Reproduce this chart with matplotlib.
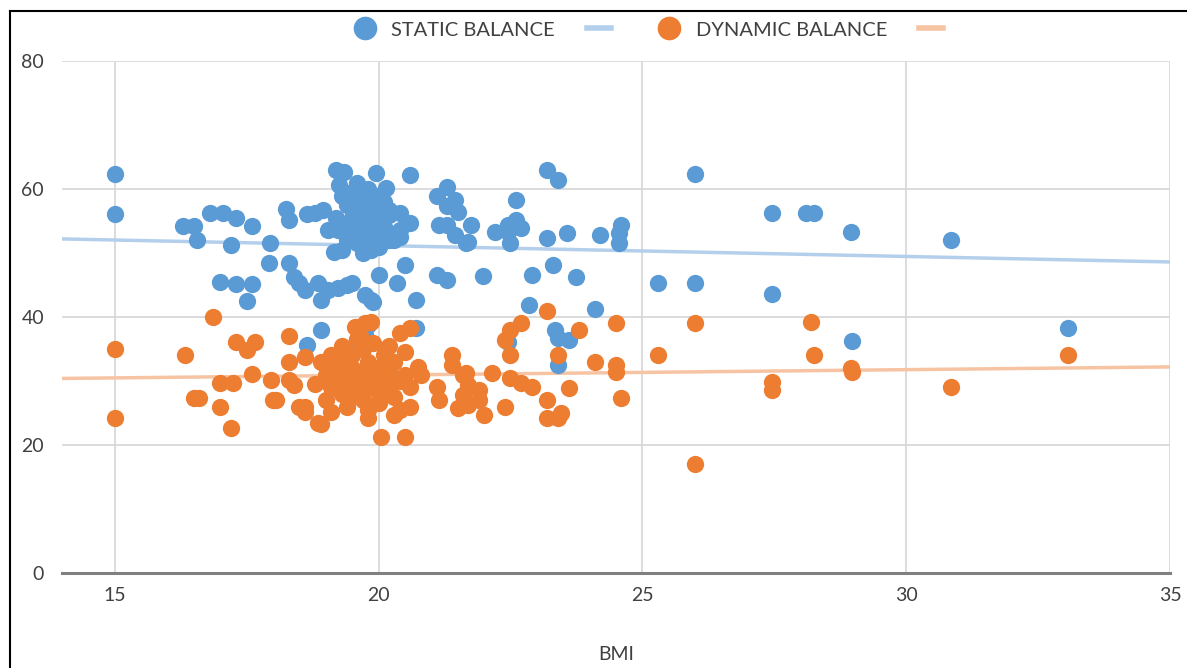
import numpy as np
import matplotlib.pyplot as plt
from matplotlib.lines import Line2D

plt.rcParams['font.family'] = ['Lato', 'DejaVu Sans']

# static balance (BMI, score)
static_bmi = [15.0, 15.0, 16.3, 16.5, 16.55, 16.8, 17.05, 17.3, 17.2, 17.6,
              17.0, 17.3, 17.6, 17.5, 17.95, 17.93, 18.25, 18.3, 18.3, 18.4,
              18.6, 18.5, 18.65, 18.8, 18.95, 18.85, 18.9, 19.05, 19.24, 19.4,
              19.5, 19.16, 19.2, 19.35, 19.25, 19.3, 19.45, 19.05, 19.24, 19.6,
              19.7, 19.8, 19.9, 20.0, 19.75, 19.55, 20.0, 19.85, 19.95, 20.15,
              20.2, 20.4, 20.1, 20.3, 20.4, 20.6, 20.4, 20.6, 20.35, 20.5,
              20.0, 19.75, 19.85, 19.74, 19.8, 19.9, 20.7, 20.7, 21.1, 21.3,
              21.45, 21.3, 21.5, 21.15, 21.3, 21.45, 21.65, 21.7, 21.75, 21.1,
              21.3, 21.98, 22.2, 22.45, 22.6, 22.45, 22.6, 22.7, 22.5, 22.9,
              23.2, 23.4, 23.2, 23.57, 23.3, 23.75, 22.85, 23.6, 23.4, 23.35,
              22.45, 24.1, 24.2, 24.6, 24.55, 24.55, 25.3, 26.0, 26.0, 27.45,
              27.45, 28.1, 28.25, 28.95, 28.97, 30.85, 33.06, 18.65, 18.9, 19.5,
              19.3, 19.4, 19.5, 19.5, 19.6, 19.6, 19.7, 19.7, 19.8, 19.8,
              19.9, 19.9, 20.0, 20.0, 20.1, 20.1, 19.4, 19.2, 19.5, 19.6,
              19.8, 20.2, 20.2, 19.3, 19.7, 23.4]
static_val = [62.3, 56.1, 54.2, 54.2, 52.0, 56.3, 56.3, 55.5, 51.2, 54.2,
              45.5, 45.2, 45.2, 42.5, 51.6, 48.4, 56.9, 55.2, 48.4, 46.2,
              44.2, 45.3, 56.1, 56.3, 56.7, 45.3, 42.7, 44.2, 44.5, 45.0,
              45.3, 50.2, 63.0, 62.7, 60.6, 58.9, 57.5, 53.6, 53.6, 54.4,
              56.0, 57.5, 59.0, 56.7, 52.0, 52.0, 52.0, 50.5, 62.5, 60.2,
              56.7, 56.3, 53.9, 52.0, 52.5, 62.2, 53.6, 54.7, 45.3, 48.1,
              46.6, 43.4, 42.7, 37.2, 38.7, 42.3, 42.7, 38.3, 58.9, 60.3,
              58.3, 57.3, 56.4, 54.4, 54.4, 52.8, 51.6, 51.7, 54.4, 46.6,
              45.8, 46.4, 53.3, 53.3, 58.3, 54.4, 55.2, 53.9, 51.6, 46.6,
              63.0, 61.4, 52.3, 53.1, 48.1, 46.2, 41.9, 36.4, 36.7, 38.0,
              36.1, 41.2, 52.8, 54.4, 51.6, 53.1, 45.3, 62.4, 45.3, 56.3,
              43.6, 56.3, 56.3, 53.3, 36.2, 52.0, 38.3, 35.6, 38.0, 34.8,
              54.0, 52.0, 55.5, 53.0, 57.0, 51.5, 54.0, 58.5, 55.0, 52.5,
              57.0, 53.5, 55.0, 51.0, 58.0, 54.0, 57.5, 55.5, 59.5, 61.0,
              60.0, 52.0, 56.0, 50.5, 50.0, 32.5]

# dynamic balance (BMI, score)
dynamic_bmi = [16.86, 15.0, 16.33, 17.3, 17.66, 17.5, 18.3, 17.6, 17.0, 17.25,
               17.97, 18.3, 18.3, 18.4, 16.5, 16.6, 17.0, 18.05, 18.6, 18.6,
               17.2, 15.0, 18.9, 19.1, 18.6, 23.2, 19.75, 20.6, 20.4, 22.7,
               22.5, 23.8, 24.5, 22.5, 23.4, 24.1, 24.5, 24.5, 24.6, 23.6,
               23.2, 23.2, 23.45, 23.4, 22.4, 22.9, 22.5, 22.7, 22.15, 21.4,
               21.4, 21.6, 21.1, 21.15, 21.65, 21.7, 21.6, 21.9, 21.9, 21.5,
               21.7, 22.0, 20.75, 20.8, 20.6, 20.4, 20.3, 20.05, 20.5, 19.8,
               18.85, 18.5, 18.0, 26.0, 28.2, 25.3, 28.25, 33.06, 28.97, 28.95,
               27.45, 27.45, 30.85, 26.0, 22.4,
               19.0, 19.1, 19.2, 19.2, 19.3, 19.3, 19.4, 19.4, 19.5, 19.5,
               19.5, 19.6, 19.6, 19.7, 19.7, 19.7, 19.8, 19.8, 19.9, 19.9,
               20.0, 20.0, 20.1, 20.1, 20.2, 20.2, 20.3, 20.3, 20.4, 19.0,
               18.9, 19.3, 19.6, 20.0, 19.4, 20.5, 20.6, 18.8, 19.1, 19.8,
               20.2, 20.5, 19.55, 19.65, 19.85, 19.45]
dynamic_val = [40.0, 35.0, 34.0, 36.1, 36.1, 34.8, 37.0, 31.1, 29.7, 29.7,
               30.2, 33.0, 30.2, 29.4, 27.3, 27.3, 26.0, 27.0, 26.0, 25.2,
               22.6, 24.2, 23.3, 25.2, 33.8, 41.0, 39.0, 38.3, 37.5, 39.0,
               38.0, 38.0, 39.0, 34.0, 34.0, 33.0, 31.4, 32.5, 27.3, 28.9,
               27.0, 24.2, 25.0, 24.2, 26.0, 29.0, 30.4, 29.7, 31.2, 34.0,
               32.5, 31.0, 29.0, 27.0, 31.2, 29.4, 27.8, 28.6, 27.0, 25.8,
               26.2, 24.7, 32.2, 31.0, 26.0, 25.5, 24.7, 21.2, 21.2, 24.2,
               23.4, 26.0, 27.0, 39.0, 39.2, 34.0, 34.0, 34.0, 31.4, 32.0,
               29.8, 28.6, 29.0, 17.1, 36.4,
               31.0, 29.0, 32.0, 30.0, 28.0, 33.0, 31.0, 29.5, 34.0, 27.5,
               32.0, 30.0, 28.5, 35.0, 31.5, 27.0, 33.0, 29.0, 30.5, 36.0,
               32.0, 28.0, 30.0, 34.0, 29.0, 31.5, 27.5, 33.0, 30.0, 27.0,
               33.0, 35.5, 36.5, 26.5, 26.0, 31.0, 29.0, 29.5, 34.0, 25.5,
               35.5, 34.5, 38.5, 37.0, 39.2, 30.5]

# linear trend values read at the ends of the x range
trend_bmi = [14, 35]
static_trend = [52.2, 48.6]
dynamic_trend = [30.4, 32.2]

x_ticks = [15, 20, 25, 30, 35]
y_ticks = [0, 20, 40, 60, 80]

blue = '#5b9bd5'
orange = '#ed7d31'
blue_trend = '#b4cfeb'
orange_trend = '#f6c4a3'

fig = plt.figure(figsize=(11.87, 6.68), dpi=100)
ax = fig.add_axes([62 / 1187, 1 - 573 / 668, (1170 - 62) / 1187, (573 - 61) / 668])

ax.scatter(static_bmi, static_val, s=155, color=blue, zorder=3, linewidths=0)
ax.scatter(dynamic_bmi, dynamic_val, s=155, color=orange, zorder=3, linewidths=0)

ax.plot(trend_bmi, static_trend, color=blue_trend, lw=2.5, zorder=2)
ax.plot(trend_bmi, dynamic_trend, color=orange_trend, lw=2.5, zorder=2)

ax.set_xlim(14, 35)
ax.set_ylim(0, 80)
ax.set_xticks(x_ticks)
ax.set_yticks(y_ticks)
ax.grid(True, color='#d9d9d9', lw=1.3, zorder=0)
ax.set_axisbelow(True)
for s in ['top', 'right', 'left']:
    ax.spines[s].set_visible(False)
ax.spines['bottom'].set_color('#808080')
ax.spines['bottom'].set_linewidth(2.2)
ax.spines['bottom'].set_zorder(4)
ax.tick_params(length=0, labelsize=14, colors='#404040', pad=10)
ax.tick_params(axis='y', pad=13)
ax.set_xlabel('BMI', fontsize=14, color='#404040', labelpad=30)

handles = [Line2D([], [], marker='o', ls='none', color=blue, markersize=16),
           Line2D([], [], color=blue_trend, lw=4),
           Line2D([], [], marker='o', ls='none', color=orange, markersize=16),
           Line2D([], [], color=orange_trend, lw=4)]
labels = ['STATIC BALANCE', '', 'DYNAMIC BALANCE', '']
fig.legend(handles, labels, loc='center', bbox_to_anchor=(655 / 1187, 1 - 30 / 668),
           ncol=4, frameon=False, fontsize=14.5, handlelength=1.2, columnspacing=1.6,
           handletextpad=0.7, labelcolor='#404040')

# frame around the chart
fig.add_artist(Line2D([10 / 1187, 1], [1 - 11 / 668, 1 - 11 / 668], color='black', lw=1.5,
                      transform=fig.transFigure))
fig.add_artist(Line2D([10 / 1187, 10 / 1187], [0, 1 - 11 / 668], color='black', lw=1.5,
                      transform=fig.transFigure))

fig.savefig('out.png', dpi=100)
